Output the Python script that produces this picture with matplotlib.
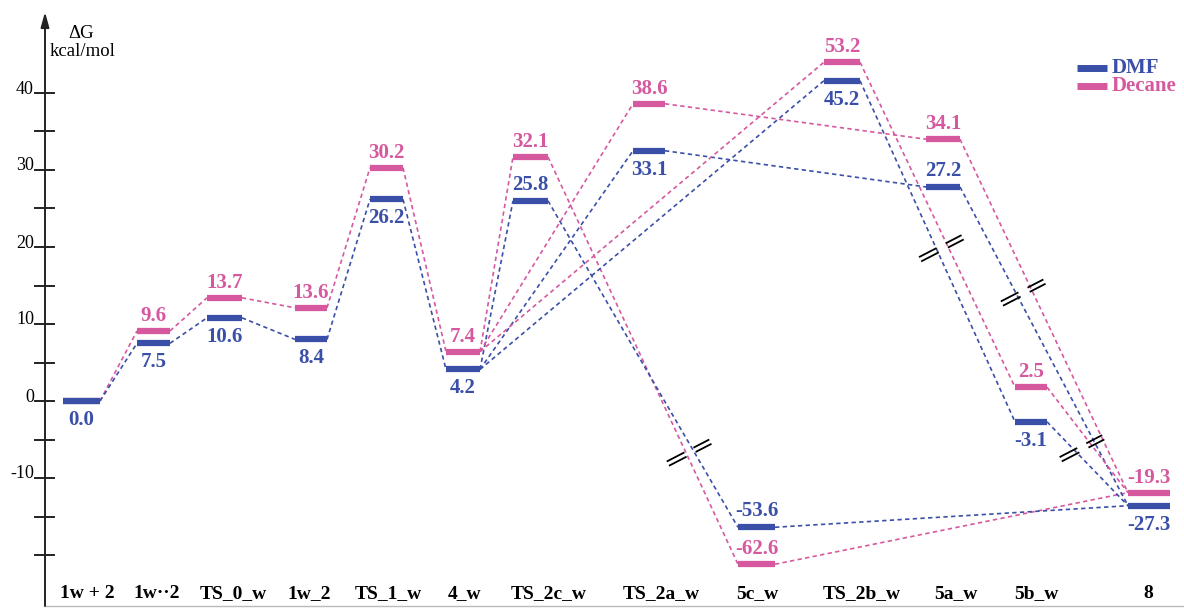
import matplotlib
matplotlib.use('Agg')
import matplotlib.pyplot as plt

plt.rcParams['font.family'] = ['Liberation Serif', 'DejaVu Serif']

# species along the reaction coordinate
species = ['1w + 2', '1w\u00b7\u00b72', 'TS_0_w', '1w_2', 'TS_1_w', '4_w', 'TS_2c_w',
           'TS_2a_w', '5c_w', 'TS_2b_w', '5a_w', '5b_w', '8']

# free energies written on the diagram (kcal/mol)
dmf_dG = [0.0, 7.5, 10.6, 8.4, 26.2, 4.2, 25.8, 33.1, -53.6, 45.2, 27.2, -3.1, -27.3]
dec_dG = [0.0, 9.6, 13.7, 13.6, 30.2, 7.4, 32.1, 38.6, -62.6, 53.2, 34.1, 2.5, -19.3]

# heights at which the levels are drawn (axis is broken for the low ones)
dmf_level = [0.0, 7.5, 10.8, 8.0, 26.2, 4.1, 26.0, 32.5, -16.4, 41.6, 27.8, -2.7, -13.6]
dec_level = [0.0, 9.1, 13.4, 12.1, 30.3, 6.4, 31.7, 38.6, -21.2, 44.0, 34.0, 1.8, -11.9]

# which side of the bar the DMF number sits on
dmf_above = [False, False, False, False, False, False, True, False, True, False, True, False, False]

# pathways: (from, to)
links = [(0, 1), (1, 2), (2, 3), (3, 4), (4, 5),
         (5, 6), (6, 8), (8, 12),
         (5, 7), (7, 10), (10, 12),
         (5, 9), (9, 11), (11, 12)]
# broken connections: (from, to, fraction along the DMF line)
breaks = [(6, 8, 0.77), (9, 11, 0.49), (10, 12, 0.33), (11, 12, 0.31)]

yticks = [40, 30, 20, 10, 0, -10]

# layout (x in pixels of the 1184 px wide canvas)
bar_left = [63, 137, 207, 295, 370, 446, 513, 633, 738, 824, 926, 1015, 1128]
bar_right = [100, 170, 242, 327, 403, 480, 548, 665, 775, 860, 960, 1047, 1170]
label_x = [87, 157, 233, 309, 388, 465, 549, 661, 757, 862, 956, 1036, 1148]

BLUE = '#3a4fa8'
PINK = '#d6589f'
PX = 7.7       # pixels per kcal/mol
Y0 = 401       # pixel row of 0 kcal/mol

fig = plt.figure(figsize=(11.84, 6.08), dpi=100)
ax = fig.add_axes([0, 0, 1, 1])
ax.set_xlim(0, 1184)
ax.set_ylim((Y0 - 608) / PX, Y0 / PX)
ax.axis('off')


def py(v):
    # pixel offset -> data units
    return v / PX


# dashed connectors
for a, b in links:
    for lev, col in ((dec_level, PINK), (dmf_level, BLUE)):
        ax.plot([bar_right[a], bar_left[b]], [lev[a], lev[b]], color=col,
                lw=1.2, linestyle=(0, (2.6, 2.0)), zorder=2)

# energy levels
for i in range(len(species)):
    ax.plot([bar_left[i], bar_right[i]], [dec_level[i], dec_level[i]], color=PINK,
            lw=4.5, solid_capstyle='butt', zorder=3)
for i in range(len(species)):
    ax.plot([bar_left[i], bar_right[i]], [dmf_level[i], dmf_level[i]], color=BLUE,
            lw=4.5, solid_capstyle='butt', zorder=4)

# numbers
for i in range(len(species)):
    xc = (bar_left[i] + bar_right[i]) / 2
    if i > 0:
        ax.annotate('%.1f' % dec_dG[i], (xc, dec_level[i]), xytext=(0, 15),
                    textcoords='offset pixels', ha='center', va='center',
                    color=PINK, fontsize=15, fontweight='bold')
    off = 16 if dmf_above[i] else -19
    ax.annotate('%.1f' % dmf_dG[i], (xc, dmf_level[i]), xytext=(0, off),
                textcoords='offset pixels', ha='center', va='center',
                color=BLUE, fontsize=15, fontweight='bold')

# break marks
for a, b, t in breaks:
    xb = bar_right[a] + t * (bar_left[b] - bar_right[a])
    yb = dmf_level[a] + t * (dmf_level[b] - dmf_level[a])
    xp = bar_right[a] + (yb - dec_level[a]) / (dec_level[b] - dec_level[a]) * (bar_left[b] - bar_right[a])
    xc = (xb + xp) / 2
    ux, uy = 0.89, 0.46      # direction of the mark (pixels)
    nx, ny = -uy, ux
    for s in (-2.4, 2.4):
        for t0, t1 in ((-24, -6), (6, 22)):
            ax.plot([xc + t0 * ux + s * nx, xc + t1 * ux + s * nx],
                    [yb + py(t0 * uy + s * ny), yb + py(t1 * uy + s * ny)],
                    color='black', lw=1.3, zorder=5)

# y axis with arrow
ax.annotate('', xy=(45, py(Y0 - 12)), xytext=(45, py(Y0 - 606)),
            arrowprops=dict(arrowstyle='-|>,head_length=0.9,head_width=0.25',
                            color='#222222', lw=1.4, shrinkA=0, shrinkB=0))
for v in range(-20, 45, 5):
    ax.plot([35, 54], [v, v], color='#222222', lw=1.4)
for v in yticks:
    ax.text(34, v + py(4), str(v), ha='right', va='center', fontsize=13)
ax.text(81, py(Y0 - 33), '\u0394G', ha='center', va='center', fontsize=13.5)
ax.text(83, py(Y0 - 51), 'kcal/mol', ha='center', va='center', fontsize=13.5)

# bottom line
ax.plot([45, 1184], [py(Y0 - 606)] * 2, color='#bbbbbb', lw=1)

# species names
for i, name in enumerate(species):
    ax.text(label_x[i], py(Y0 - 594), name, ha='center', va='center',
            fontsize=14, fontweight='bold')

# legend
for k, (name, col) in enumerate((('DMF', BLUE), ('Decane', PINK))):
    yy = py(Y0 - 68 - 18 * k)
    ax.plot([1077, 1107], [yy, yy], color=col, lw=5, solid_capstyle='butt')
    ax.text(1112, yy, name, color=col, ha='left', va='center', fontsize=15,
            fontweight='bold')

fig.savefig('out.png', dpi=100)
